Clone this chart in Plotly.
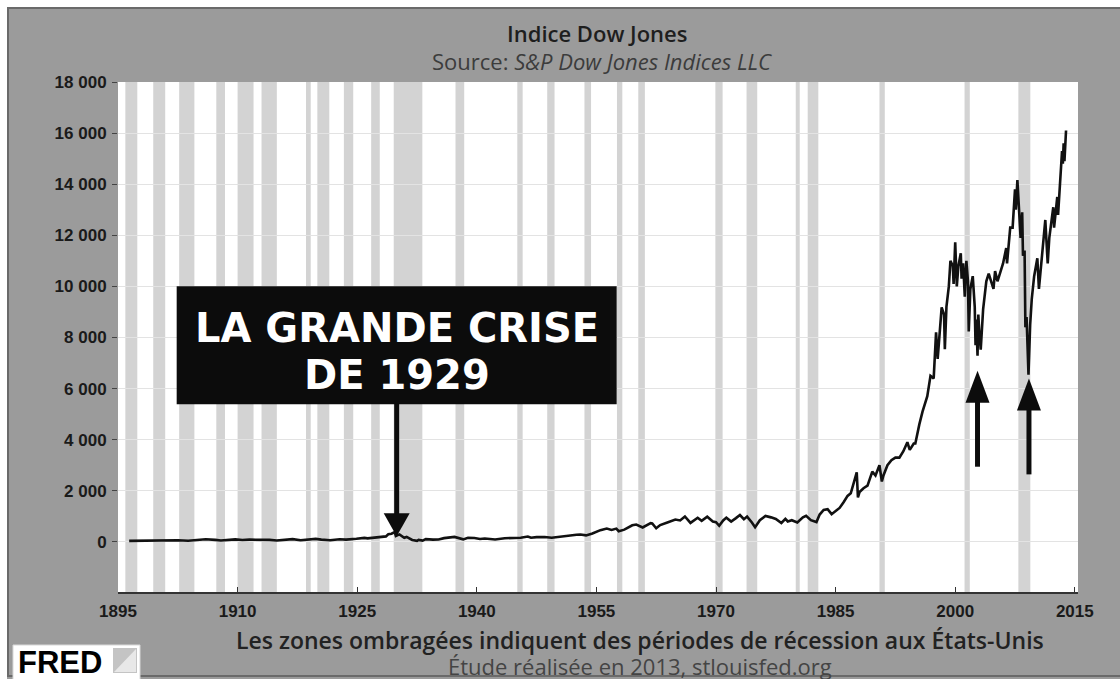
import plotly.graph_objects as go

# ---------------- data ----------------
YEARS = [1896.4, 1897.0, 1897.7, 1898.3, 1899.3, 1900.0, 1900.7, 1901.4, 1902.5, 1903.8,
         1904.9, 1906.0, 1907.2, 1907.9, 1909.7, 1910.6, 1911.5, 1912.8, 1914.0, 1914.9,
         1916.0, 1916.9, 1917.9, 1919.8, 1920.5, 1921.6, 1922.8, 1923.6, 1924.9, 1925.9,
         1926.3, 1927.5, 1927.9, 1928.6, 1928.9, 1929.3, 1929.7, 1929.85, 1930.3, 1930.9,
         1931.2, 1931.9, 1932.5, 1932.7, 1933.2, 1933.6, 1934.5, 1935.2, 1935.9, 1937.2,
         1938.3, 1938.9, 1939.7, 1940.4, 1941.0, 1942.3, 1943.5, 1944.5, 1945.5, 1946.4,
         1946.8, 1947.5, 1948.5, 1949.4, 1950.5, 1951.5, 1952.5, 1953.0, 1953.7, 1954.5,
         1955.5, 1956.3, 1956.9, 1957.5, 1957.8, 1958.5, 1959.5, 1960.0, 1960.8, 1961.8,
         1962.0, 1962.5, 1963.0, 1963.9, 1964.9, 1965.5, 1966.1, 1966.8, 1967.7, 1968.2,
         1968.9, 1969.6, 1970.0, 1970.4, 1970.9, 1971.3, 1971.9, 1972.5, 1973.0, 1973.5,
         1973.9, 1974.5, 1974.9, 1975.5, 1976.2, 1976.9, 1977.5, 1978.2, 1978.7, 1979.0,
         1979.5, 1980.2, 1980.9, 1981.3, 1981.9, 1982.6, 1983.0, 1983.5, 1984.0, 1984.5,
         1985.0, 1985.5, 1986.0, 1986.5, 1986.9, 1987.3, 1987.65, 1987.8, 1988.0, 1988.5,
         1989.0, 1989.6, 1990.0, 1990.5, 1990.8, 1991.0, 1991.5, 1992.0, 1992.5, 1993.0,
         1993.5, 1994.0, 1994.3, 1994.8, 1995.0, 1995.5, 1995.9, 1996.5, 1996.9, 1997.3,
         1997.6, 1997.8, 1998.0, 1998.3, 1998.6, 1998.7, 1998.9, 1999.2, 1999.4, 1999.7,
         1999.8, 2000.0, 2000.2, 2000.4, 2000.7, 2000.8, 2001.0, 2001.2, 2001.4, 2001.6,
         2001.7, 2001.9, 2002.2, 2002.45, 2002.55, 2002.65, 2002.8, 2002.9, 2003.0, 2003.2,
         2003.5, 2003.9, 2004.2, 2004.5, 2004.8, 2005.0, 2005.3, 2005.7, 2006.0, 2006.4,
         2006.5, 2006.9, 2007.2, 2007.5, 2007.6, 2007.8, 2008.0, 2008.2, 2008.4, 2008.5,
         2008.7, 2008.8, 2008.95, 2009.19, 2009.4, 2009.6, 2009.9, 2010.3, 2010.5, 2010.9,
         2011.3, 2011.6, 2011.8, 2012.3, 2012.4, 2012.8, 2012.9, 2013.4, 2013.5, 2013.6,
         2013.7, 2013.9]

DOW = [40, 42, 53, 45, 77, 66, 55, 78, 67, 42,
       70, 103, 78, 53, 100, 74, 87, 94, 79, 54,
       98, 110, 66, 119, 90, 64, 103, 88, 120, 157,
       140, 170, 200, 216, 300, 320, 381, 230, 294, 160,
       194, 74, 41, 79, 50, 108, 88, 96, 148, 194,
       99, 158, 155, 112, 133, 93, 145, 150, 165, 212,
       163, 186, 190, 161, 209, 255, 280, 290, 255, 330,
       460, 520, 470, 520, 420, 480, 650, 680, 566, 735,
       720, 535, 660, 760, 875, 840, 995, 744, 943, 825,
       985, 800, 770, 631, 838, 950, 797, 930, 1051, 890,
       990, 760, 578, 850, 1014, 960, 900, 742, 900, 800,
       850, 759, 960, 1024, 850, 777, 1070, 1250, 1280, 1086,
       1200, 1330, 1550, 1800, 1900, 2300, 2722, 1739, 1950, 2100,
       2200, 2750, 2600, 2999, 2365, 2600, 3000, 3200, 3300, 3300,
       3550, 3900, 3600, 3850, 3850, 4600, 5100, 5700, 6500, 6400,
       8200, 7160, 7900, 9180, 8900, 7539, 9200, 10000, 11000, 10800,
       10100, 11723, 9996, 10800, 11300, 10300, 10900, 9600, 11000, 10200,
       8236, 9900, 10400, 9200, 7700, 8700, 7286, 8900, 8300, 7524,
       9100, 10200, 10500, 10200, 9900, 10600, 10200, 10600, 10900, 11500,
       10900, 12300, 12300, 13800, 13000, 14165, 12700, 11900, 12900, 11200,
       11400, 8400, 8800, 6547, 8500, 9500, 10400, 11100, 9900, 11400,
       12600, 10900, 11900, 13100, 12300, 13500, 12800, 15300, 14800, 15600,
       14900, 16100]

# US recessions (NBER), start / end as decimal years
REC_START = [1895.92, 1899.42, 1902.67, 1907.33, 1910.0, 1913.0, 1918.58, 1920.0, 1923.33,
             1926.75, 1929.58, 1937.33, 1945.08, 1948.83, 1953.5, 1957.58, 1960.25, 1969.92,
             1973.83, 1980.0, 1981.5, 1990.5, 2001.17, 2007.92]
REC_END = [1897.42, 1900.92, 1904.58, 1908.42, 1912.0, 1914.92, 1919.17, 1921.5, 1924.5,
           1927.83, 1933.17, 1938.42, 1945.75, 1949.75, 1954.33, 1958.25, 1961.08, 1970.83,
           1975.17, 1980.5, 1982.83, 1991.17, 2001.83, 2009.42]

Y_TICKS = [0, 2000, 4000, 6000, 8000, 10000, 12000, 14000, 16000, 18000]
X_TICKS = [1895, 1910, 1925, 1940, 1955, 1970, 1985, 2000, 2015]

# annotation anchors (year, level)
CRISIS_POINT = (1929.7, 381)
UP_ARROWS = [(2002.8, 6700), (2009.25, 6400)]

TITLE = "Indice Dow Jones"
SUBTITLE = "Source: <i>S&P Dow Jones Indices LLC</i>"
NOTE1 = "Les zones ombragées indiquent des périodes de récession aux États-Unis"
NOTE2 = "Étude réalisée en 2013, stlouisfed.org"
BOX_LINE1 = "LA GRANDE CRISE"
BOX_LINE2 = "DE 1929"

# ---------------- layout geometry ----------------
W, H = 1120, 679
L, R, T, B = 118, 42, 82, 87
PW, PH = W - L - R, H - T - B


def px(x):
    return (x - L) / PW


def py(y):
    return (H - B - y) / PH


GRAY_BG = "#9b9b9b"
REC_COL = "#d3d3d3"
INK = "#0c0c0c"

fig = go.Figure()
fig.add_trace(go.Scatter(x=YEARS, y=DOW, mode="lines",
                         line=dict(color="#111111", width=2.6),
                         hoverinfo="skip", showlegend=False))

shapes = []
for s, e in zip(REC_START, REC_END):
    shapes.append(dict(type="rect", xref="x", yref="paper", x0=s, x1=e, y0=0, y1=1,
                       fillcolor=REC_COL, line=dict(width=0), layer="below"))

# outer frame: white margin strip and thin dark border
shapes.append(dict(type="rect", xref="paper", yref="paper", x0=px(-5), x1=px(7),
                   y0=py(H + 5), y1=py(-5), fillcolor="white", line=dict(width=0), layer="below"))
shapes.append(dict(type="rect", xref="paper", yref="paper", x0=px(-5), x1=px(W + 5),
                   y0=py(7), y1=py(-5), fillcolor="white", line=dict(width=0), layer="below"))
shapes.append(dict(type="rect", xref="paper", yref="paper", x0=px(8), x1=px(W + 10),
                   y0=py(H - 3), y1=py(8), fillcolor="rgba(0,0,0,0)",
                   line=dict(color="#6a6a6a", width=2), layer="below"))

# crisis box + downward arrow (pixel sized, anchored on the 1929 peak)
cx, cy = CRISIS_POINT
shapes.append(dict(type="rect", xref="x", yref="y", xsizemode="pixel", ysizemode="pixel",
                   xanchor=cx, yanchor=cy, x0=-218, x1=222, y0=128, y1=246,
                   fillcolor=INK, line=dict(width=0), layer="above"))
shapes.append(dict(type="rect", xref="x", yref="y", xsizemode="pixel", ysizemode="pixel",
                   xanchor=cx, yanchor=cy, x0=-0.5, x1=4.5, y0=16, y1=129,
                   fillcolor=INK, line=dict(width=0), layer="above"))
shapes.append(dict(type="path", xref="x", yref="y", xsizemode="pixel", ysizemode="pixel",
                   xanchor=cx, yanchor=cy, path="M -11,19 L 15,19 L 2,-4 Z",
                   fillcolor=INK, line=dict(width=0), layer="above"))

# upward arrows at the 2002 and 2009 lows
for ax_, ay_ in UP_ARROWS:
    shapes.append(dict(type="rect", xref="x", yref="y", xsizemode="pixel", ysizemode="pixel",
                       xanchor=ax_, yanchor=ay_, x0=-2.5, x1=2.5, y0=-96, y1=-28,
                       fillcolor=INK, line=dict(width=0), layer="above"))
    shapes.append(dict(type="path", xref="x", yref="y", xsizemode="pixel", ysizemode="pixel",
                       xanchor=ax_, yanchor=ay_, path="M -12,-32 L 12,-32 L 0,0 Z",
                       fillcolor=INK, line=dict(width=0), layer="above"))

# FRED logo box
shapes.append(dict(type="rect", xref="paper", yref="paper", x0=px(13), x1=px(140),
                   y0=py(681), y1=py(645), fillcolor="white",
                   line=dict(color="#d8d8d8", width=1), layer="above"))
shapes.append(dict(type="rect", xref="paper", yref="paper", x0=px(113), x1=px(137),
                   y0=py(673), y1=py(648), fillcolor="#c4c4c4", line=dict(width=0), layer="above"))
shapes.append(dict(type="path", xref="paper", yref="paper",
                   path=f"M {px(114)},{py(672)} L {px(136)},{py(649)} L {px(136)},{py(672)} Z",
                   fillcolor="#e8e8e8", line=dict(width=0), layer="above"))

TEXT_FONT = "Open Sans, Noto Sans, sans-serif"
BOX_FONT = dict(family="DejaVu Sans, sans-serif", size=40, color="white", weight="bold")
annotations = [
    dict(text=TITLE, xref="paper", yref="paper", x=px(597), y=py(33), showarrow=False,
         xanchor="center", yanchor="middle",
         font=dict(family=TEXT_FONT, size=22, color="#1e1e1e", weight=600)),
    dict(text=SUBTITLE, xref="paper", yref="paper", x=px(602), y=py(61), showarrow=False,
         xanchor="center", yanchor="middle",
         font=dict(family=TEXT_FONT, size=22, color="#3c3c3c")),
    dict(text=NOTE1, xref="paper", yref="paper", x=px(640), y=py(640), showarrow=False,
         xanchor="center", yanchor="middle",
         font=dict(family=TEXT_FONT, size=23, color="#222222", weight=600)),
    dict(text=NOTE2, xref="paper", yref="paper", x=px(640), y=py(666), showarrow=False,
         xanchor="center", yanchor="middle",
         font=dict(family=TEXT_FONT, size=22, color="#444444")),
    dict(text="FRED", xref="paper", yref="paper", x=px(16), y=py(662), showarrow=False,
         xanchor="left", yanchor="middle",
         font=dict(family="Liberation Sans, Arial, sans-serif", size=31, color="#000000",
                   weight="bold")),
    dict(text=BOX_LINE1, xref="x", yref="y", x=cx, y=cy, xshift=2, yshift=204,
         showarrow=False, xanchor="center", yanchor="middle", font=BOX_FONT),
    dict(text=BOX_LINE2, xref="x", yref="y", x=cx, y=cy, xshift=2, yshift=157,
         showarrow=False, xanchor="center", yanchor="middle", font=BOX_FONT),
]

TICK_FONT = dict(family="Liberation Sans, Arial, sans-serif", size=17, color="#1a1a1a",
                 weight="bold")

fig.update_layout(
    width=W, height=H,
    margin=dict(l=L, r=R, t=T, b=B, pad=0),
    paper_bgcolor=GRAY_BG, plot_bgcolor="white",
    separators=". ",
    shapes=shapes, annotations=annotations,
    showlegend=False,
    xaxis=dict(range=[1895, 2015.4], tickvals=X_TICKS, ticktext=[str(v) for v in X_TICKS],
               showgrid=False, zeroline=False, ticks="inside", ticklen=5, tickwidth=1,
               tickcolor="#333333", showline=True, linecolor="#333333", linewidth=2,
               tickfont=TICK_FONT, ticklabelstandoff=3, fixedrange=True),
    yaxis=dict(range=[-1961, 18000], tickvals=Y_TICKS, tickformat=",d",
               showgrid=True, gridcolor="#e3e3e3", gridwidth=1, zeroline=False,
               ticks="outside", ticklen=5, tickwidth=1, tickcolor="#444444",
               showline=False, tickfont=TICK_FONT, ticklabelstandoff=2, fixedrange=True),
)

fig.write_html("out.html", config={"displayModeBar": False})

# remove the browser's default body margin so the figure sits at the window's corner
with open("out.html", encoding="utf-8") as f:
    html = f.read()
html = html.replace("<head>", "<head><style>html,body{margin:0;padding:0;overflow:hidden;}</style>", 1)
with open("out.html", "w", encoding="utf-8") as f:
    f.write(html)
